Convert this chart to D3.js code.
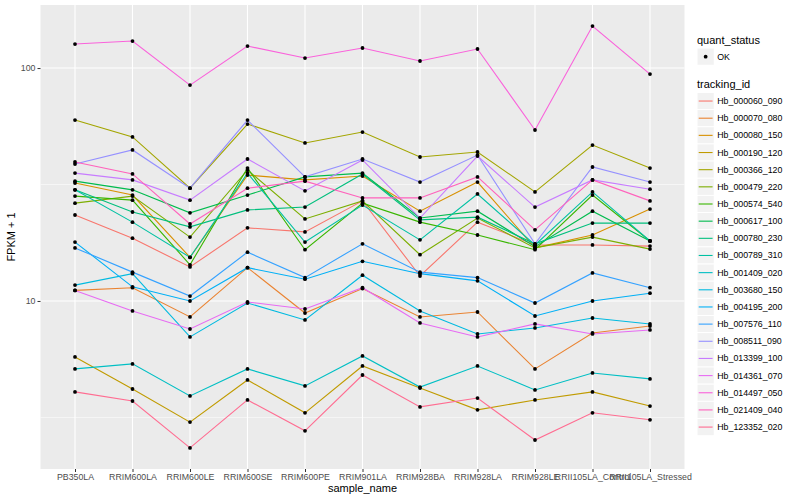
<!DOCTYPE html>
<html>
<head>
<meta charset="utf-8">
<script src="https://cdn.jsdelivr.net/npm/d3@7/dist/d3.min.js"></script>
<style>
  body { margin: 0; background: #fff; }
  text { font-family: "Liberation Sans", Arial, sans-serif; }
</style>
</head>
<body>
<div id="chart"></div>
<script>
// categories on the x axis
const samples = ["PB350LA", "RRIM600LA", "RRIM600LE", "RRIM600SE", "RRIM600PE", "RRIM901LA",
  "RRIM928BA", "RRIM928LA", "RRIM928LE", "RRII105LA_Control", "RRII105LA_Stressed"];

const trackingIds = ["Hb_000060_090", "Hb_000070_080", "Hb_000080_150", "Hb_000190_120", "Hb_000366_120",
  "Hb_000479_220", "Hb_000574_540", "Hb_000617_100", "Hb_000780_230", "Hb_000789_310",
  "Hb_001409_020", "Hb_003680_150", "Hb_004195_200", "Hb_007576_110", "Hb_008511_090",
  "Hb_013399_100", "Hb_014361_070", "Hb_014497_050", "Hb_021409_040", "Hb_123352_020"];

// ggplot hue palette for 20 groups
const colors = ["#F8766D", "#EA8331", "#D89000", "#C09B00", "#A3A500", "#7CAE00", "#39B600", "#00BB4E",
  "#00BF7D", "#00C1A3", "#00BFC4", "#00BAE0", "#00B0F6", "#35A2FF", "#9590FF", "#C77CFF",
  "#E76BF3", "#FA62DB", "#FF62BC", "#FF6C91"];

// FPKM + 1, one array per tracking id (order = samples)
const hb_000060_090 = [23.4, 18.6, 14.0, 20.6, 19.8, 26.9, 12.8, 21.8, 17.4, 17.4, 17.2];
const hb_000070_080 = [11.1, 11.4, 8.54, 13.9, 8.88, 11.3, 8.54, 8.97, 5.11, 7.29, 7.81];
const hb_000080_150 = [32.1, 28.5, 15.4, 34.7, 33.1, 34.4, 24.3, 32.4, 16.9, 19.2, 24.8];
const hb_000190_120 = [5.75, 4.19, 3.02, 4.58, 3.31, 5.26, 4.23, 3.41, 3.76, 4.07, 3.54];
const hb_000366_120 = [59.8, 50.6, 30.5, 57.5, 47.7, 53.1, 41.5, 43.6, 29.4, 46.7, 37.2];
const hb_000479_220 = [26.3, 28.2, 18.8, 36.5, 22.5, 26.9, 15.8, 22.7, 16.9, 18.8, 16.7];
const hb_000574_540 = [28.2, 27.1, 14.3, 37.2, 16.6, 26.3, 21.8, 19.2, 16.6, 28.5, 18.1];
const hb_000617_100 = [32.7, 30.0, 23.9, 28.5, 34.1, 35.4, 22.7, 24.3, 17.1, 24.3, 18.1];
const hb_000780_230 = [30.0, 24.1, 20.8, 24.6, 25.3, 35.1, 22.3, 22.9, 17.6, 21.6, 21.6];
const hb_000789_310 = [30.0, 21.8, 15.4, 35.4, 17.9, 25.8, 18.3, 28.8, 17.4, 29.4, 18.1];
const hb_001409_020 = [5.11, 5.37, 3.91, 5.11, 4.32, 5.81, 4.27, 5.26, 4.15, 4.91, 4.63];
const hb_003680_150 = [11.7, 13.1, 7.01, 9.80, 8.29, 12.9, 9.06, 7.22, 7.66, 8.45, 7.97];
const hb_004195_200 = [17.9, 11.5, 10.0, 13.9, 12.4, 14.8, 13.1, 12.2, 8.62, 10.0, 10.8];
const hb_007576_110 = [16.9, 13.3, 10.5, 16.2, 12.6, 17.6, 13.3, 12.6, 9.80, 13.2, 11.4];
const hb_008511_090 = [38.7, 44.5, 30.5, 59.8, 34.1, 40.7, 32.4, 42.3, 17.6, 37.6, 32.4];
const hb_013399_100 = [35.4, 33.1, 27.1, 40.7, 29.7, 40.3, 22.7, 41.9, 25.3, 33.1, 30.2];
const hb_014361_070 = [11.1, 9.06, 7.58, 9.90, 9.24, 11.4, 8.05, 7.01, 7.97, 7.22, 7.51];
const hb_014497_050 = [126.8, 130.6, 84.5, 124.3, 110.4, 121.9, 107.2, 120.7, 54.2, 151.4, 94.2];
const hb_021409_040 = [39.5, 35.1, 21.4, 30.5, 32.7, 27.7, 27.7, 34.1, 20.2, 33.1, 26.9];
const hb_123352_020 = [4.07, 3.72, 2.34, 3.76, 2.77, 4.81, 3.51, 3.83, 2.53, 3.31, 3.09];

const seriesValues = [hb_000060_090, hb_000070_080, hb_000080_150, hb_000190_120, hb_000366_120,
  hb_000479_220, hb_000574_540, hb_000617_100, hb_000780_230, hb_000789_310,
  hb_001409_020, hb_003680_150, hb_004195_200, hb_007576_110, hb_008511_090,
  hb_013399_100, hb_014361_070, hb_014497_050, hb_021409_040, hb_123352_020];

const yTicks = [10, 100];
const yMinor = [Math.pow(10, 0.5), Math.pow(10, 1.5)];

const series = trackingIds.map((id, i) => ({
  id: id,
  color: colors[i],
  values: samples.map((s, j) => ({ sample: s, value: seriesValues[i][j] }))
}));

// panel geometry
const margin = { top: 5, left: 40.5 },
    width = 644,
    height = 464;

const svg = d3.select("#chart").append("svg")
    .attr("width", 800)
    .attr("height", 500);

const g = svg.append("g")
    .attr("transform", "translate(" + margin.left + "," + margin.top + ")");

// scales: discrete x with ggplot's 0.6 expansion, log y with 5% expansion
const x = d3.scalePoint().domain(samples).range([0, width]).padding(0.6);

const allVals = seriesValues.flat();
const lo = Math.log10(d3.min(allVals)), hi = Math.log10(d3.max(allVals));
const pad = (hi - lo) * 0.05;
const y = d3.scaleLog()
    .domain([Math.pow(10, lo - pad), Math.pow(10, hi + pad)])
    .range([height, 0]);

// panel background
g.append("rect")
    .attr("width", width)
    .attr("height", height)
    .attr("fill", "#EBEBEB");

// grid
g.selectAll(".minor")
    .data(yMinor)
    .enter().append("line")
    .attr("x1", 0).attr("x2", width)
    .attr("y1", d => y(d)).attr("y2", d => y(d))
    .attr("stroke", "#fff").attr("stroke-width", 0.55);

g.selectAll(".hmajor")
    .data(yTicks)
    .enter().append("line")
    .attr("x1", 0).attr("x2", width)
    .attr("y1", d => y(d)).attr("y2", d => y(d))
    .attr("stroke", "#fff").attr("stroke-width", 1.1);

g.selectAll(".vmajor")
    .data(samples)
    .enter().append("line")
    .attr("x1", d => x(d)).attr("x2", d => x(d))
    .attr("y1", 0).attr("y2", height)
    .attr("stroke", "#fff").attr("stroke-width", 1.1);

// lines
const line = d3.line()
    .x(d => x(d.sample))
    .y(d => y(d.value));

g.selectAll(".series")
    .data(series)
    .enter().append("path")
    .attr("d", d => line(d.values))
    .attr("fill", "none")
    .attr("stroke", d => d.color)
    .attr("stroke-width", 1.1);

// points on top
series.forEach(function (s) {
  g.selectAll(null)
      .data(s.values)
      .enter().append("circle")
      .attr("cx", d => x(d.sample))
      .attr("cy", d => y(d.value))
      .attr("r", 1.9)
      .attr("fill", "#000");
});

// axes
const xAxis = g.append("g")
    .attr("transform", "translate(0," + height + ")")
    .call(d3.axisBottom(x).tickSize(3).tickPadding(2));
xAxis.select(".domain").remove();
xAxis.selectAll("line").attr("stroke", "#333333");
xAxis.selectAll("text").attr("fill", "#4D4D4D").style("font-size", "8.8px");

const yAxis = g.append("g")
    .call(d3.axisLeft(y).tickValues(yTicks).tickFormat(d3.format("d")).tickSize(3).tickPadding(2));
yAxis.select(".domain").remove();
yAxis.selectAll("line").attr("stroke", "#333333");
yAxis.selectAll("text").attr("fill", "#4D4D4D").style("font-size", "8.8px");

// axis titles
svg.append("text")
    .attr("x", margin.left + width / 2)
    .attr("y", 492)
    .attr("text-anchor", "middle")
    .style("font-size", "11px")
    .text("sample_name");

svg.append("text")
    .attr("transform", "translate(15," + (margin.top + height / 2) + ") rotate(-90)")
    .attr("text-anchor", "middle")
    .style("font-size", "11px")
    .text("FPKM + 1");

// legends
const lx = 697, key = 17.28;
const legend = svg.append("g");

legend.append("text").attr("x", lx).attr("y", 44).style("font-size", "11px").text("quant_status");
legend.append("rect").attr("x", lx).attr("y", 48).attr("width", key).attr("height", key)
    .attr("fill", "#F2F2F2").attr("stroke", "#fff");
legend.append("circle").attr("cx", lx + key / 2).attr("cy", 48 + key / 2).attr("r", 1.9).attr("fill", "#000");
legend.append("text").attr("x", lx + key + 3).attr("y", 48 + key / 2 + 3)
    .style("font-size", "8.8px").text("OK");

legend.append("text").attr("x", lx).attr("y", 88).style("font-size", "11px").text("tracking_id");

const items = legend.selectAll(".item")
    .data(series)
    .enter().append("g")
    .attr("transform", (d, i) => "translate(" + lx + "," + (92.4 + i * 17.16) + ")");

items.append("rect")
    .attr("width", key).attr("height", key)
    .attr("fill", "#F2F2F2").attr("stroke", "#fff");

items.append("line")
    .attr("x1", 1.7).attr("x2", key - 1.7)
    .attr("y1", key / 2).attr("y2", key / 2)
    .attr("stroke", d => d.color).attr("stroke-width", 1.1);

items.append("text")
    .attr("x", key + 3)
    .attr("y", key / 2 + 3)
    .style("font-size", "8.8px")
    .text(d => d.id);
</script>
</body>
</html>
